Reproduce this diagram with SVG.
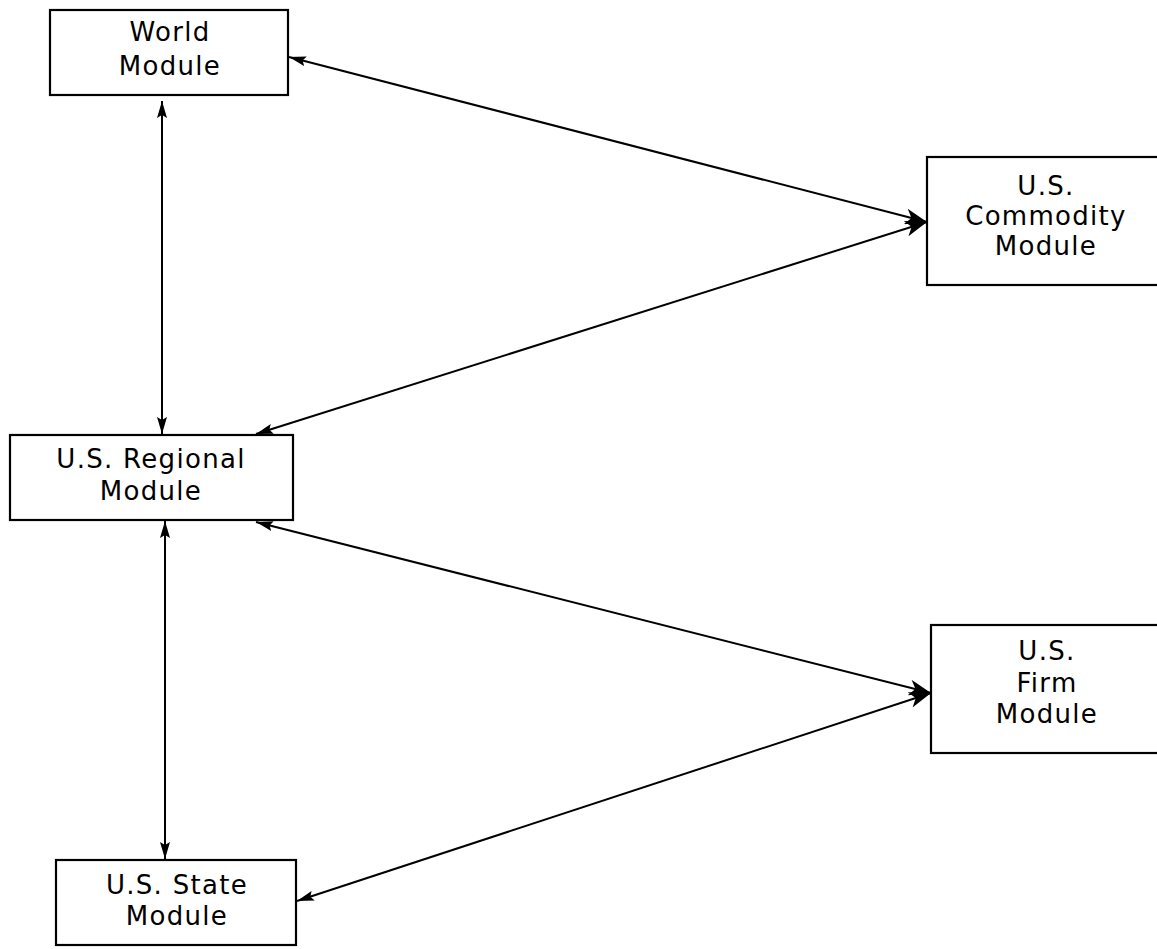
<svg xmlns="http://www.w3.org/2000/svg" width="1157" height="949" viewBox="0 0 1157 949">
<style>
.box{fill:#fff;stroke:#000;stroke-width:2.2}
.lbl{font-family:"DejaVu Sans","Liberation Sans",sans-serif;font-size:26px;letter-spacing:1.3px;fill:#000;text-anchor:middle}
.conn{stroke:#000;stroke-width:2;fill:none;marker-start:url(#ah);marker-end:url(#ah)}
.big{marker-end:url(#ahb)}
</style>
<defs>
<marker id="ah" viewBox="0 0 17 10" refX="17" refY="5" markerWidth="17" markerHeight="10" markerUnits="userSpaceOnUse" orient="auto-start-reverse">
<path d="M0,0 L17,5 L0,10 L3,5 Z" fill="#000"/>
</marker>
<marker id="ahb" viewBox="0 0 22 16" refX="22" refY="8" markerWidth="22" markerHeight="16" markerUnits="userSpaceOnUse" orient="auto">
<path d="M0,0 L22,8 L0,16 L6,8 Z" fill="#000"/>
</marker>
</defs>
<rect width="1157" height="949" fill="#fff"/>
<g id="connectors">
<line class="conn" x1="162" y1="101" x2="162" y2="434"/>
<line class="conn" x1="165" y1="521" x2="165" y2="859"/>
<line class="conn big" x1="289" y1="57" x2="927" y2="222"/>
<line class="conn big" x1="256" y1="434" x2="927" y2="222"/>
<line class="conn big" x1="256" y1="522" x2="931" y2="693"/>
<line class="conn big" x1="297" y1="901" x2="931" y2="693"/>
</g>
<g id="world">
<rect class="box" x="50" y="10" width="238" height="85"/>
<text class="lbl" x="170" y="41">World</text>
<text class="lbl" x="170" y="75">Module</text>
</g>
<g id="commodity">
<rect class="box" x="927" y="157" width="240" height="128"/>
<text class="lbl" x="1046" y="195">U.S.</text>
<text class="lbl" x="1046" y="225">Commodity</text>
<text class="lbl" x="1046" y="255">Module</text>
</g>
<g id="regional">
<rect class="box" x="10" y="435" width="283" height="85"/>
<text class="lbl" x="151" y="468">U.S. Regional</text>
<text class="lbl" x="151" y="500">Module</text>
</g>
<g id="firm">
<rect class="box" x="931" y="625" width="240" height="128"/>
<text class="lbl" x="1047" y="660">U.S.</text>
<text class="lbl" x="1047" y="692">Firm</text>
<text class="lbl" x="1047" y="723">Module</text>
</g>
<g id="state">
<rect class="box" x="56" y="860" width="240" height="85"/>
<text class="lbl" x="177" y="894">U.S. State</text>
<text class="lbl" x="177" y="925">Module</text>
</g>
</svg>
